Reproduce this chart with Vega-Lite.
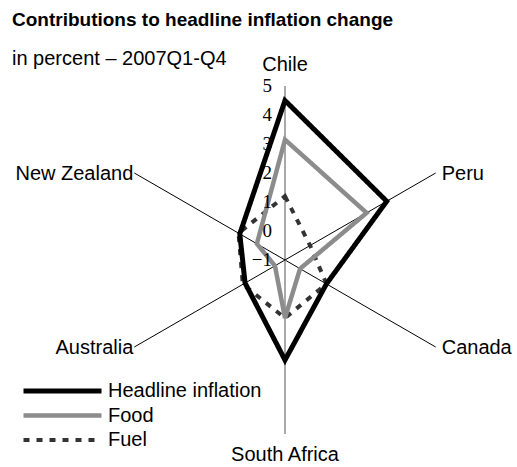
{
  "$schema": "https://vega.github.io/schema/vega-lite/v6.json",
  "width": 517,
  "height": 392,
  "autosize": {"type": "none"},
  "padding": {"top": 75, "left": 0, "right": 0, "bottom": 0},
  "background": "white",
  "title": {
    "text": "Contributions to headline inflation change",
    "subtitle": "in percent – 2007Q1-Q4",
    "anchor": "start",
    "frame": "group",
    "dx": 12,
    "offset": -14,
    "font": "Liberation Sans",
    "fontSize": 19,
    "fontWeight": "bold",
    "color": "black",
    "subtitleFont": "Liberation Sans",
    "subtitleFontSize": 20,
    "subtitleColor": "black",
    "subtitlePadding": 19
  },
  "config": {
    "view": {"stroke": null}
  },
  "datasets": {
    "series": [
      {"country": "Chile", "series": "Fuel", "value": 1.2},
      {"country": "Peru", "series": "Fuel", "value": 0.0},
      {"country": "Canada", "series": "Fuel", "value": 0.65},
      {"country": "South Africa", "series": "Fuel", "value": 1.0},
      {"country": "Australia", "series": "Fuel", "value": 0.68},
      {"country": "New Zealand", "series": "Fuel", "value": 0.85},
      {"country": "Chile", "series": "Food", "value": 3.15},
      {"country": "Peru", "series": "Food", "value": 2.25},
      {"country": "Canada", "series": "Food", "value": -0.4},
      {"country": "South Africa", "series": "Food", "value": 1.0},
      {"country": "Australia", "series": "Food", "value": -0.6},
      {"country": "New Zealand", "series": "Food", "value": 0.12},
      {"country": "Chile", "series": "Headline inflation", "value": 4.5},
      {"country": "Peru", "series": "Headline inflation", "value": 3.05},
      {"country": "Canada", "series": "Headline inflation", "value": 0.65},
      {"country": "South Africa", "series": "Headline inflation", "value": 2.45},
      {"country": "Australia", "series": "Headline inflation", "value": 0.59},
      {"country": "New Zealand", "series": "Headline inflation", "value": 0.8}
    ],
    "countries": [
      {"country": "Chile"},
      {"country": "Peru"},
      {"country": "Canada"},
      {"country": "South Africa"},
      {"country": "Australia"},
      {"country": "New Zealand"}
    ],
    "ticks": [
      {"tick": -1}, {"tick": 0}, {"tick": 1}, {"tick": 2}, {"tick": 3}, {"tick": 4}, {"tick": 5}
    ]
  },
  "layer": [
    {
      "data": {"name": "countries"},
      "transform": [
        {"calculate": "indexof(['Chile','Peru','Canada','South Africa','Australia','New Zealand'], datum.country)", "as": "idx"},
        {"calculate": "6 * sin(datum.idx * PI / 3)", "as": "ex"},
        {"calculate": "6 * cos(datum.idx * PI / 3)", "as": "ey"},
        {"calculate": "0", "as": "cx"}
      ],
      "mark": {"type": "rule"},
      "encoding": {
        "x": {"field": "cx", "type": "quantitative", "scale": {"domain": [-9.8276, 8.0], "zero": false, "nice": false}, "axis": null},
        "y": {"field": "cx", "type": "quantitative", "scale": {"domain": [-7.1379, 6.3793], "zero": false, "nice": false}, "axis": null},
        "x2": {"field": "ex"},
        "y2": {"field": "ey"},
        "color": {
          "condition": {"test": "datum.country === 'Chile' || datum.country === 'South Africa'", "value": "#8c8c8c"},
          "value": "black"
        },
        "strokeWidth": {
          "condition": {"test": "datum.country === 'Chile' || datum.country === 'South Africa'", "value": 1.5},
          "value": 1
        }
      }
    },
    {
      "data": {"name": "series"},
      "transform": [
        {"calculate": "indexof(['Chile','Peru','Canada','South Africa','Australia','New Zealand'], datum.country)", "as": "idx"},
        {"calculate": "(datum.value + 1) * sin(datum.idx * PI / 3)", "as": "px"},
        {"calculate": "(datum.value + 1) * cos(datum.idx * PI / 3)", "as": "py"}
      ],
      "mark": {"type": "line", "interpolate": "linear-closed", "strokeJoin": "miter"},
      "encoding": {
        "x": {"field": "px", "type": "quantitative"},
        "y": {"field": "py", "type": "quantitative"},
        "order": {"field": "idx", "type": "quantitative"},
        "color": {
          "field": "series", "type": "nominal",
          "scale": {"domain": ["Headline inflation", "Food", "Fuel"], "range": ["black", "#8c8c8c", "#333333"]},
          "legend": {
            "title": null,
            "orient": "none",
            "legendX": 21,
            "legendY": 306,
            "symbolType": "stroke",
            "symbolSize": 6084,
            "clipHeight": 20,
            "labelFont": "Liberation Sans",
            "labelFontSize": 20,
            "labelColor": "black",
            "labelOffset": 4,
            "rowPadding": 4.5,
            "symbolOpacity": 1
          }
        },
        "strokeWidth": {
          "field": "series", "type": "nominal",
          "scale": {"domain": ["Headline inflation", "Food", "Fuel"], "range": [5, 4, 2]}
        },
        "strokeDash": {
          "field": "series", "type": "nominal",
          "scale": {"domain": ["Headline inflation", "Food", "Fuel"], "range": [[1, 0], [1, 0], [6, 7]]}
        }
      }
    },
    {
      "data": {"name": "ticks"},
      "transform": [
        {"calculate": "0", "as": "cx"},
        {"calculate": "datum.tick + 1", "as": "ty"}
      ],
      "mark": {"type": "text", "align": "right", "baseline": "middle", "dx": -13, "font": "Liberation Serif", "fontSize": 19, "color": "black"},
      "encoding": {
        "x": {"field": "cx", "type": "quantitative"},
        "y": {"field": "ty", "type": "quantitative"},
        "text": {"field": "tick", "type": "quantitative"}
      }
    },
    {
      "data": {"name": "countries"},
      "transform": [
        {"filter": "datum.country === 'Chile'"},
        {"calculate": "0", "as": "lx"},
        {"calculate": "6", "as": "ly"}
      ],
      "mark": {"type": "text", "align": "center", "baseline": "middle", "dy": -21, "font": "Liberation Sans", "fontSize": 20, "color": "black"},
      "encoding": {
        "x": {"field": "lx", "type": "quantitative"},
        "y": {"field": "ly", "type": "quantitative"},
        "text": {"field": "country"}
      }
    },
    {
      "data": {"name": "countries"},
      "transform": [
        {"filter": "datum.country === 'South Africa'"},
        {"calculate": "0", "as": "lx"},
        {"calculate": "-6", "as": "ly"}
      ],
      "mark": {"type": "text", "align": "center", "baseline": "middle", "dy": 21, "font": "Liberation Sans", "fontSize": 20, "color": "black"},
      "encoding": {
        "x": {"field": "lx", "type": "quantitative"},
        "y": {"field": "ly", "type": "quantitative"},
        "text": {"field": "country"}
      }
    },
    {
      "data": {"name": "countries"},
      "transform": [
        {"filter": "datum.country === 'Peru' || datum.country === 'Canada'"},
        {"calculate": "indexof(['Chile','Peru','Canada','South Africa','Australia','New Zealand'], datum.country)", "as": "idx"},
        {"calculate": "6 * sin(datum.idx * PI / 3)", "as": "lx"},
        {"calculate": "6 * cos(datum.idx * PI / 3)", "as": "ly"}
      ],
      "mark": {"type": "text", "align": "left", "baseline": "middle", "dx": 6, "dy": 1, "font": "Liberation Sans", "fontSize": 20, "color": "black"},
      "encoding": {
        "x": {"field": "lx", "type": "quantitative"},
        "y": {"field": "ly", "type": "quantitative"},
        "text": {"field": "country"}
      }
    },
    {
      "data": {"name": "countries"},
      "transform": [
        {"filter": "datum.country === 'Australia' || datum.country === 'New Zealand'"},
        {"calculate": "indexof(['Chile','Peru','Canada','South Africa','Australia','New Zealand'], datum.country)", "as": "idx"},
        {"calculate": "6 * sin(datum.idx * PI / 3)", "as": "lx"},
        {"calculate": "6 * cos(datum.idx * PI / 3)", "as": "ly"}
      ],
      "mark": {"type": "text", "align": "right", "baseline": "middle", "dx": -1, "dy": 1, "font": "Liberation Sans", "fontSize": 20, "color": "black"},
      "encoding": {
        "x": {"field": "lx", "type": "quantitative"},
        "y": {"field": "ly", "type": "quantitative"},
        "text": {"field": "country"}
      }
    }
  ]
}
